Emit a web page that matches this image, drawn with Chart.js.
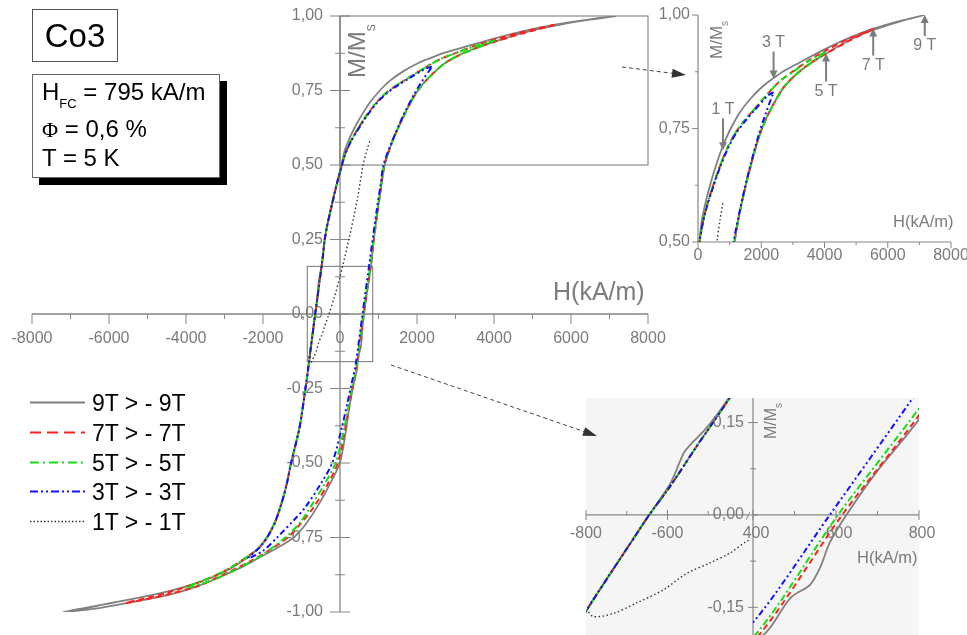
<!DOCTYPE html>
<html>
<head>
<meta charset="utf-8">
<script src="https://cdn.jsdelivr.net/npm/chart.js@4.4.1/dist/chart.umd.min.js"></script>
<style>
  body { margin: 0; background: #fff; }
  #page { position: relative; width: 967px; height: 635px; overflow: hidden; font-family: "Liberation Sans", Arial, sans-serif; }
  canvas { position: absolute; }
  .txt { position: absolute; white-space: nowrap; line-height: 1; }
  .gray { color: #7b7b7b; }
  .rot { transform: rotate(-90deg); transform-origin: 0 0; }
</style>
</head>
<body>
<div id="page">
  <div style="position:absolute;left:586px;top:398px;width:333px;height:237px;background:#f5f5f5"></div>
  <canvas id="mainChart" width="967" height="635" style="left:0;top:0"></canvas>
  <canvas id="zoomLeft" width="190" height="237" style="left:560px;top:398px"></canvas>
  <canvas id="zoomRight" width="267" height="237" style="left:700px;top:398px"></canvas>
  <canvas id="topChart" width="327" height="270" style="left:640px;top:0"></canvas>

  <div class="txt" style="left:32px;top:9px;width:86px;height:53px;border:1px solid #555;box-sizing:border-box;font-size:33px;line-height:51px;text-align:center;">Co3</div>
  <div style="position:absolute;left:32px;top:74px;width:188px;height:104px;border:1px solid #666;box-sizing:border-box;background:#fff;box-shadow:7px 7px 0 #000;"></div>
  <div class="txt" style="left:42px;top:80px;font-size:24px;">H<span style="font-size:13px;vertical-align:-8px">FC</span> = 795 kA/m</div>
  <div class="txt" style="left:42px;top:117px;font-size:24px;"><span style="font-family:'Liberation Serif',serif;font-size:22px">Φ</span> = 0,6 %</div>
  <div class="txt" style="left:42px;top:146px;font-size:24px;">T = 5 K</div>

  <div class="txt gray" style="left:553px;top:279px;font-size:25px;">H(kA/m)</div>
  <div class="txt gray rot" style="left:345px;top:78px;font-size:24px;">M/M<span style="font-size:14px;vertical-align:-10px">s</span></div>
  <div class="txt gray" style="left:893px;top:213px;font-size:16.5px;">H(kA/m)</div>
  <div class="txt gray rot" style="left:708px;top:59px;font-size:17px;">M/M<span style="font-size:10px;vertical-align:-6px">s</span></div>
  <div class="txt gray" style="left:857px;top:549px;font-size:16.5px;">H(kA/m)</div>
  <div class="txt gray rot" style="left:763px;top:439px;font-size:16px;">M/M<span style="font-size:10px;vertical-align:-6px">s</span></div>

  <div id="legend"></div>
</div>
<script>
// hysteresis loops, [H (kA/m), M/Ms]: descending branch then ascending branch
var loop9T = [
  [7170,1.000],[6400,0.987],[5550,0.970],[4800,0.950],[4050,0.926],[3200,0.895],[2700,0.876],[2390,0.861],
  [2050,0.843],[1650,0.815],[1300,0.783],[1000,0.745],[790,0.712],[600,0.675],[400,0.630],[250,0.590],
  [126,0.550],[40,0.500],[-50,0.455],[-200,0.375],[-330,0.300],[-400,0.245],[-450,0.190],[-482,0.160],
  [-513,0.135],[-537,0.119],[-558,0.103],[-570,0.086],[-578,0.073],[-594,0.050],[-645,0.000],[-700,-0.055],
  [-750,-0.105],[-800,-0.157],[-830,-0.187],[-897,-0.250],[-1050,-0.380],[-1270,-0.500],[-1400,-0.580],
  [-1548,-0.645],[-1700,-0.700],[-1894,-0.748],[-2100,-0.782],[-2330,-0.810],[-2600,-0.835],[-2850,-0.855],
  [-3250,-0.880],[-3715,-0.902],[-4500,-0.932],[-5450,-0.958],[-6300,-0.979],[-7185,-1.000],
  [-6300,-0.988],[-5450,-0.968],[-4500,-0.944],[-3700,-0.914],[-3108,-0.882],[-2500,-0.846],[-2068,-0.815],
  [-1600,-0.783],[-1201,-0.750],[-1050,-0.730],[-900,-0.707],[-594,-0.648],[-300,-0.580],[-5,-0.500],
  [143,-0.400],[240,-0.315],[330,-0.250],[434,-0.189],[490,-0.135],[538,-0.113],[562,-0.085],[585,-0.045],
  [625,0.000],[700,0.072],[805,0.160],[870,0.240],[960,0.330],[1060,0.420],[1160,0.500],[1300,0.558],
  [1444,0.605],[1652,0.664],[1920,0.730],[2150,0.771],[2390,0.804],[2705,0.840],[3100,0.869],[3500,0.891],
  [4000,0.913],[4800,0.945],[5550,0.967],[6400,0.986],[7170,1.000]
];
var loop7T = [
  [5570,0.970],[4800,0.949],[4050,0.922],[3500,0.900],[3050,0.878],[2600,0.855],[2200,0.826],[1800,0.794],
  [1500,0.770],[1200,0.742],[950,0.710],[700,0.668],[450,0.618],[250,0.572],[120,0.532],[30,0.490],
  [-60,0.448],[-200,0.372],[-330,0.298],[-400,0.248],[-443,0.195],[-529,0.111],[-594,0.046],[-645,0.000],
  [-700,-0.055],[-750,-0.105],[-800,-0.156],[-830,-0.187],[-897,-0.250],[-1050,-0.380],[-1270,-0.500],
  [-1400,-0.580],[-1548,-0.648],[-1700,-0.703],[-1894,-0.750],[-2100,-0.785],[-2414,-0.815],[-2850,-0.852],
  [-3283,-0.880],[-3715,-0.903],[-4500,-0.936],[-5570,-0.970],
  [-4500,-0.942],[-3700,-0.913],[-3283,-0.890],[-2800,-0.860],[-2300,-0.828],[-1800,-0.790],[-1357,-0.750],
  [-1000,-0.700],[-681,-0.648],[-350,-0.578],[-57,-0.500],[120,-0.395],[230,-0.315],[320,-0.250],
  [422,-0.189],[615,0.000],[801,0.163],[870,0.240],[960,0.330],[1060,0.420],[1155,0.500],[1300,0.558],
  [1444,0.605],[1652,0.664],[1920,0.730],[2150,0.771],[2390,0.804],[2705,0.840],[3100,0.869],[3500,0.891],
  [4000,0.913],[4800,0.944],[5570,0.970]
];
var loop5T = [
  [4030,0.918],[3500,0.899],[3050,0.877],[2600,0.855],[2200,0.826],[1800,0.794],[1500,0.770],[1200,0.742],
  [950,0.710],[700,0.668],[450,0.618],[250,0.572],[120,0.532],[30,0.490],[-60,0.448],[-200,0.372],
  [-330,0.298],[-400,0.248],[-443,0.195],[-529,0.111],[-594,0.046],[-645,0.000],[-700,-0.055],[-750,-0.105],
  [-800,-0.156],[-830,-0.187],[-897,-0.250],[-1050,-0.380],[-1270,-0.500],[-1400,-0.580],[-1548,-0.648],
  [-1700,-0.703],[-1894,-0.750],[-2100,-0.785],[-2414,-0.815],[-2850,-0.852],[-3283,-0.880],[-3715,-0.902],
  [-4030,-0.920],
  [-3300,-0.893],[-2700,-0.857],[-2100,-0.815],[-1418,-0.750],[-1050,-0.702],[-768,-0.648],[-420,-0.575],
  [-117,-0.500],[100,-0.390],[220,-0.310],[305,-0.250],[413,-0.189],[605,0.000],[801,0.174],[870,0.245],
  [960,0.335],[1060,0.425],[1150,0.500],[1300,0.558],[1444,0.605],[1652,0.664],[1920,0.730],[2150,0.771],
  [2390,0.804],[2705,0.840],[3100,0.869],[3500,0.890],[4030,0.918]
];
var loop3T = [
  [2390,0.830],[2200,0.822],[1800,0.791],[1500,0.767],[1200,0.739],[950,0.707],[700,0.665],[450,0.615],
  [250,0.570],[120,0.530],[30,0.490],[-60,0.448],[-200,0.372],[-330,0.298],[-400,0.248],[-443,0.195],
  [-529,0.111],[-594,0.046],[-645,0.000],[-700,-0.055],[-750,-0.105],[-800,-0.156],[-830,-0.187],
  [-897,-0.250],[-1050,-0.380],[-1270,-0.500],[-1400,-0.580],[-1548,-0.648],[-1700,-0.703],[-1894,-0.750],
  [-2100,-0.785],[-2390,-0.820],
  [-2000,-0.795],[-1634,-0.750],[-1200,-0.692],[-898,-0.648],[-500,-0.570],[-203,-0.500],[60,-0.375],
  [190,-0.300],[290,-0.240],[400,-0.175],[585,0.000],[781,0.186],[860,0.262],[950,0.345],[1050,0.430],
  [1130,0.500],[1300,0.562],[1444,0.608],[1652,0.668],[1920,0.736],[2150,0.785],[2390,0.830]
];
var loop1T = [
  [795,0.680],[700,0.668],[450,0.618],[250,0.572],[120,0.532],[30,0.490],[-60,0.448],[-200,0.372],
  [-330,0.298],[-400,0.248],[-443,0.195],[-529,0.111],[-594,0.046],[-645,0.000],[-700,-0.055],[-750,-0.105],
  [-795,-0.152],[-782,-0.165],[-733,-0.160],[-676,-0.143],[-611,-0.122],[-553,-0.095],[-496,-0.078],
  [-447,-0.062],[-406,-0.043],[-300,-0.005],[-150,0.055],[0,0.125],[230,0.250],[450,0.385],[600,0.500],
  [700,0.550],[790,0.588]
];

var seriesNames = ['9T > - 9T', '7T > - 7T', '5T > - 5T', '3T > - 3T', '1T > - 1T'];
var seriesData = [loop9T, loop7T, loop5T, loop3T, loop1T];
var seriesColors = ['#808080', '#ff2020', '#12e012', '#1010ff', '#333333'];
var seriesWidth = [1.8, 2, 2, 2, 1.4];
var seriesDash = [[], [6, 4], [7, 3, 2, 3], [6, 3, 2, 3, 2, 3], [1.5, 2.5]];
var legendDash = [[], [11, 6], [9, 4, 2, 4], [8, 3, 2, 3, 2, 3], [1.5, 2]];

// regions shown in the two insets
var topRangeH = [0, 8000], topRangeM = [0.5, 1.0];
var zoomBoxH = [-850, 850], zoomBoxM = [-0.16, 0.16];
var zoomLeftH = [-800, -400], zoomRightH = [400, 800], zoomRangeM = [-0.195, 0.19];

// field markers in the top inset
var markText = ['1 T', '3 T', '5 T', '7 T', '9 T'];
var markH = [790, 2390, 4050, 5540, 7170];
var markM = [0.702, 0.860, 0.915, 0.970, 1.000];
var markDown = [true, true, false, false, false];
var markLen = [32, 27, 28, 27, 21];

var axisGray = '#858585';
var labelGray = '#7a7a7a';
var tickFont = '16px "Liberation Sans", Arial, sans-serif';

function fmt(v) { return v.toFixed(2).replace('.', ','); }

function seg(ctx, x1, y1, x2, y2) {
  ctx.beginPath(); ctx.moveTo(x1, y1); ctx.lineTo(x2, y2); ctx.stroke();
}

function head(ctx, x1, y1, x2, y2, len, half) {
  var a = Math.atan2(y2 - y1, x2 - x1);
  var bx = x2 - len * Math.cos(a), by = y2 - len * Math.sin(a);
  ctx.beginPath();
  ctx.moveTo(x2, y2);
  ctx.lineTo(bx + half * Math.sin(a), by - half * Math.cos(a));
  ctx.lineTo(bx - half * Math.sin(a), by + half * Math.cos(a));
  ctx.closePath(); ctx.fill();
}

function datasets() {
  return seriesData.map(function (pts, i) {
    return {
      label: seriesNames[i],
      data: pts.map(function (p) { return { x: p[0], y: p[1] }; }),
      showLine: true,
      borderColor: seriesColors[i],
      borderWidth: seriesWidth[i],
      borderDash: seriesDash[i],
      pointRadius: 0,
      tension: 0.3,
      order: 5 - i
    };
  });
}

function makeChart(id, rangeH, rangeM, pad, plugin) {
  return new Chart(document.getElementById(id), {
    type: 'scatter',
    data: { datasets: datasets() },
    options: {
      responsive: false,
      animation: false,
      events: [],
      layout: { padding: pad },
      scales: {
        x: { type: 'linear', min: rangeH[0], max: rangeH[1], display: false },
        y: { type: 'linear', min: rangeM[0], max: rangeM[1], display: false }
      },
      plugins: { legend: { display: false }, tooltip: { enabled: false } }
    },
    plugins: [plugin]
  });
}

var mainDecor = {
  id: 'mainDecor',
  beforeDatasetsDraw: function (chart) {
    var ctx = chart.ctx, x = chart.scales.x, y = chart.scales.y;
    var x0 = x.getPixelForValue(0), y0 = y.getPixelForValue(0);
    ctx.save();
    ctx.strokeStyle = axisGray; ctx.lineWidth = 1.3;
    seg(ctx, x.left, y0, x.right, y0);
    seg(ctx, x0, y.top, x0, y.bottom);
    ctx.lineWidth = 1;
    ctx.font = tickFont; ctx.fillStyle = labelGray; ctx.textBaseline = 'middle';
    ctx.textAlign = 'center';
    for (var v = -8000; v <= 8000; v += 1000) {
      var px = x.getPixelForValue(v), major = v % 2000 === 0;
      seg(ctx, px, y0, px, y0 + (major ? 10 : 5));
      if (major) ctx.fillText(String(v), px, y0 + 25);
    }
    ctx.textAlign = 'right';
    for (var i = -8; i <= 8; i++) {
      var m = i * 0.125, py = y.getPixelForValue(m), big = i % 2 === 0, l = big ? 10 : 5;
      seg(ctx, x0 - l, py, x0 + l, py);
      if (big) ctx.fillText(fmt(m), x0 - 17, py);
    }
    // frames of the two magnified regions
    ctx.strokeStyle = '#737373';
    ctx.strokeRect(x.getPixelForValue(topRangeH[0]), y.getPixelForValue(topRangeM[1]),
      x.getPixelForValue(topRangeH[1]) - x.getPixelForValue(topRangeH[0]),
      y.getPixelForValue(topRangeM[0]) - y.getPixelForValue(topRangeM[1]));
    ctx.strokeRect(x.getPixelForValue(zoomBoxH[0]), y.getPixelForValue(zoomBoxM[1]),
      x.getPixelForValue(zoomBoxH[1]) - x.getPixelForValue(zoomBoxH[0]),
      y.getPixelForValue(zoomBoxM[0]) - y.getPixelForValue(zoomBoxM[1]));
    ctx.restore();
  },
  afterDatasetsDraw: function (chart) {
    var ctx = chart.ctx;
    var links = [[622, 67, 686, 75], [391, 365, 597, 436]];
    ctx.save();
    ctx.strokeStyle = '#444'; ctx.fillStyle = '#333'; ctx.lineWidth = 1;
    links.forEach(function (k) {
      ctx.setLineDash([4, 3]);
      seg(ctx, k[0], k[1], k[2] - 8, k[3] - 8 * (k[3] - k[1]) / (k[2] - k[0]));
      ctx.setLineDash([]);
      head(ctx, k[0], k[1], k[2], k[3], 14, 4.5);
    });
    ctx.restore();
  }
};

var topDecor = {
  id: 'topDecor',
  beforeDatasetsDraw: function (chart) {
    var ctx = chart.ctx, x = chart.scales.x, y = chart.scales.y, a = chart.chartArea;
    ctx.save();
    ctx.strokeStyle = axisGray; ctx.lineWidth = 1.2;
    seg(ctx, a.left, a.bottom, a.right, a.bottom);
    seg(ctx, a.left, a.top, a.left, a.bottom);
    ctx.lineWidth = 1;
    ctx.font = tickFont; ctx.fillStyle = labelGray; ctx.textBaseline = 'middle';
    ctx.textAlign = 'center';
    for (var v = 0; v <= 8000; v += 1000) {
      var px = x.getPixelForValue(v), major = v % 2000 === 0;
      seg(ctx, px, a.bottom, px, a.bottom + (major ? 6 : 3));
      if (major) ctx.fillText(String(v), px, a.bottom + 14);
    }
    ctx.textAlign = 'right';
    for (var i = 4; i <= 8; i++) {
      var m = i * 0.125, py = y.getPixelForValue(m), big = i % 2 === 0;
      seg(ctx, a.left - (big ? 6 : 3), py, a.left, py);
      if (big) ctx.fillText(fmt(m), a.left - 8, py);
    }
    ctx.restore();
  },
  afterDatasetsDraw: function (chart) {
    var ctx = chart.ctx, x = chart.scales.x, y = chart.scales.y;
    ctx.save();
    ctx.strokeStyle = '#7f7f7f'; ctx.fillStyle = '#7f7f7f'; ctx.lineWidth = 2;
    ctx.font = tickFont; ctx.textAlign = 'center'; ctx.textBaseline = 'middle';
    for (var i = 0; i < markText.length; i++) {
      var px = x.getPixelForValue(markH[i]), tip = y.getPixelForValue(markM[i]);
      var tail = markDown[i] ? tip - markLen[i] : tip + markLen[i];
      seg(ctx, px, tail, px, markDown[i] ? tip - 6 : tip + 6);
      head(ctx, px, tail, px, tip, 8, 4);
      ctx.fillStyle = '#7a7a7a';
      ctx.fillText(markText[i], px, markDown[i] ? tail - 9 : tail + 10);
    }
    ctx.restore();
  }
};

var zoomLeftDecor = {
  id: 'zoomLeftDecor',
  beforeDatasetsDraw: function (chart) {
    var ctx = chart.ctx, x = chart.scales.x, y = chart.scales.y, a = chart.chartArea;
    var y0 = y.getPixelForValue(0);
    ctx.save();
    ctx.strokeStyle = axisGray; ctx.lineWidth = 1.2;
    seg(ctx, a.left, y0, a.right - 1, y0);
    ctx.lineWidth = 1;
    ctx.font = tickFont; ctx.fillStyle = labelGray; ctx.textBaseline = 'middle'; ctx.textAlign = 'center';
    for (var v = -800; v < -400; v += 100) {
      var px = x.getPixelForValue(v), major = v % 200 === 0;
      if (major) { seg(ctx, px, y0 - 5, px, y0 + 5); ctx.fillText(String(v), px, y0 + 19); }
      else seg(ctx, px, y0 - 4, px, y0);
    }
    // axis break mark
    seg(ctx, a.right - 3, y0 + 5, a.right + 2, y0 - 5);
    seg(ctx, a.right + 1, y0 + 5, a.right + 6, y0 - 5);
    ctx.restore();
  }
};

var zoomRightDecor = {
  id: 'zoomRightDecor',
  beforeDatasetsDraw: function (chart) {
    var ctx = chart.ctx, x = chart.scales.x, y = chart.scales.y, a = chart.chartArea;
    var y0 = y.getPixelForValue(0);
    ctx.save();
    ctx.strokeStyle = axisGray; ctx.lineWidth = 1.2;
    seg(ctx, a.left, y0, a.right, y0);
    seg(ctx, a.left, a.top, a.left, a.bottom);
    ctx.lineWidth = 1;
    ctx.font = tickFont; ctx.fillStyle = labelGray; ctx.textBaseline = 'middle'; ctx.textAlign = 'center';
    for (var v = 400; v <= 800; v += 100) {
      var px = x.getPixelForValue(v), major = v % 200 === 0;
      if (major) { seg(ctx, px, y0 - 5, px, y0 + 5); ctx.fillText(String(v), px + 3, y0 + 19); }
      else seg(ctx, px, y0 - 4, px, y0);
    }
    ctx.textAlign = 'right';
    for (var i = -2; i <= 2; i++) {
      var m = i * 0.075, py = y.getPixelForValue(m), big = i % 2 === 0, l = big ? 5 : 3;
      seg(ctx, a.left - l, py, a.left + l, py);
      if (big) ctx.fillText(fmt(m), a.left - 9, py);
    }
    ctx.restore();
  }
};

makeChart('mainChart', [-8000, 8000], [-1, 1], { left: 32, right: 319, top: 16, bottom: 23 }, mainDecor);
makeChart('topChart', topRangeH, topRangeM, { left: 58, right: 16, top: 15, bottom: 28 }, topDecor);
makeChart('zoomLeft', zoomLeftH, zoomRangeM, { left: 26, right: 1, top: 0, bottom: 0 }, zoomLeftDecor);
makeChart('zoomRight', zoomRightH, zoomRangeM, { left: 53, right: 48, top: 0, bottom: 0 }, zoomRightDecor);

// legend
var legend = document.getElementById('legend');
seriesNames.forEach(function (name, i) {
  var top = 391 + i * 29.75;
  var svgNS = 'http://www.w3.org/2000/svg';
  var svg = document.createElementNS(svgNS, 'svg');
  svg.setAttribute('width', '56'); svg.setAttribute('height', '24');
  svg.style.position = 'absolute'; svg.style.left = '30px'; svg.style.top = top + 'px';
  var ln = document.createElementNS(svgNS, 'line');
  ln.setAttribute('x1', '0'); ln.setAttribute('y1', '11.5'); ln.setAttribute('x2', '55'); ln.setAttribute('y2', '11.5');
  ln.setAttribute('stroke', seriesColors[i]);
  ln.setAttribute('stroke-width', i === 4 ? '1.5' : '2');
  if (legendDash[i].length) ln.setAttribute('stroke-dasharray', legendDash[i].join(' '));
  svg.appendChild(ln);
  legend.appendChild(svg);
  var t = document.createElement('div');
  t.className = 'txt';
  t.style.left = '92px'; t.style.top = top + 'px';
  t.style.fontSize = '23px'; t.style.lineHeight = '24px';
  t.textContent = name;
  legend.appendChild(t);
});
</script>
